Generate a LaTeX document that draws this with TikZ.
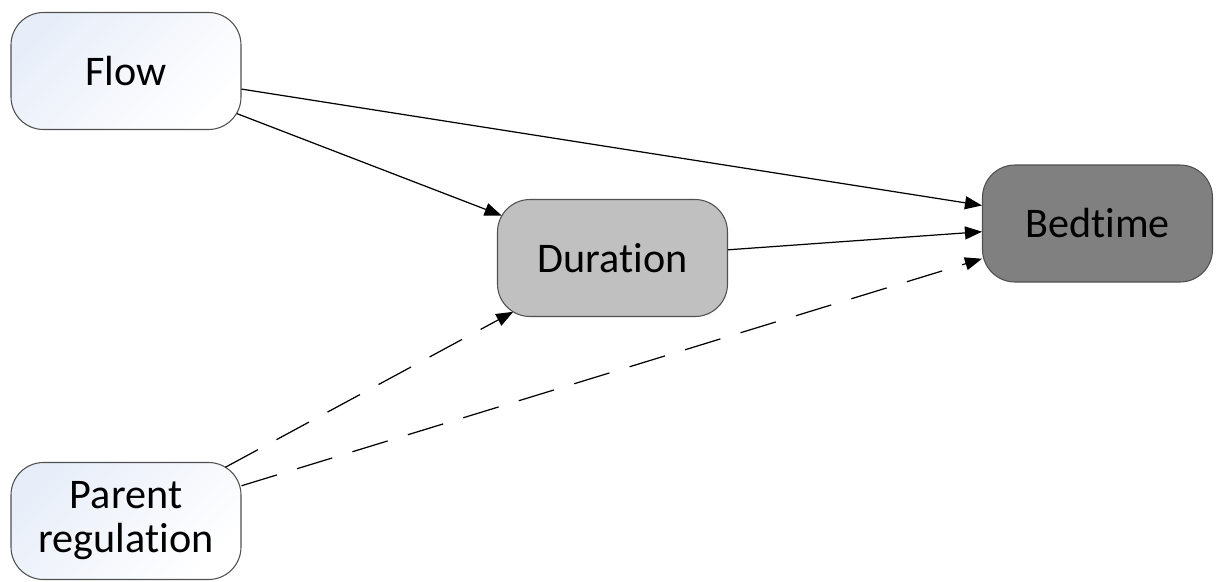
\documentclass[tikz,border=0pt]{standalone}
\usepackage{fontspec}
\setmainfont[Ligatures=NoCommon]{Carlito}
\usepackage{tikz}
\usetikzlibrary{shapes.geometric, arrows.meta, positioning}
\definecolor{paletint}{HTML}{E8EEF9}
\definecolor{midgray}{HTML}{C0C0C0}
\definecolor{darkgray}{HTML}{808080}
\definecolor{rimgray}{HTML}{505050}
\tikzset{
    factor/.style={rectangle, rounded corners=0.65cm, minimum width=4.6cm, minimum height=2.34cm, align=center, draw=rimgray, line width=0.6pt, font=\fontsize{24}{25}\selectfont},
    source/.style={factor, top color=paletint, bottom color=white, shading angle=45},
    mediator/.style={factor, fill=midgray},
    outcome/.style={factor, fill=darkgray},
    link/.style={line width=0.7pt, ->, >={Triangle[length=0.34cm, width=0.26cm]}},
    guess/.style={link, dash pattern=on 21pt off 12pt},
}

\begin{document}
\begin{tikzpicture}
  \useasboundingbox (0,0) rectangle (24.32,-11.62);

  \node[source]   (flow)     at (2.52,-1.42)   {Flow};
  \node[mediator] (duration) at (12.25,-5.16)  {Duration};
  \node[outcome]  (bedtime)  at (21.95,-4.47)  {Bedtime};
  \node[source]   (parent)   at (2.52,-10.42)  {Parent\\regulation};

  % solid paths
  \path[link] (flow) edge (bedtime);
  \path[link] (flow) edge[shorten <=-0.1cm, shorten >=-0.1cm] (duration);
  \path[link] (duration) edge (bedtime);
  % dashed paths, ending on the rounded corners
  \path[guess] (parent) edge[shorten <=-0.22cm, shorten >=-0.22cm] (duration);
  \path[guess] (parent) edge (bedtime);
\end{tikzpicture}
\end{document}
